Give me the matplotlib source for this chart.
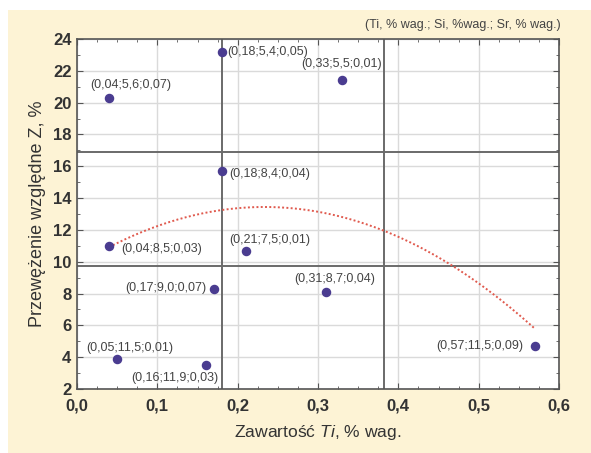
import matplotlib
matplotlib.use("Agg")
import matplotlib.pyplot as plt
import numpy as np
from matplotlib.patches import Rectangle
from matplotlib.ticker import MultipleLocator, FuncFormatter

plt.rcParams["font.family"] = ["Liberation Sans", "DejaVu Sans"]
plt.rcParams["mathtext.fontset"] = "custom"
plt.rcParams["mathtext.it"] = "Liberation Sans:italic"
plt.rcParams["mathtext.rm"] = "Liberation Sans"

ti = [0.04, 0.18, 0.33, 0.18, 0.04, 0.21, 0.17, 0.31, 0.05, 0.16, 0.57]
z = [20.3, 23.2, 21.4, 15.7, 11.0, 10.7, 8.3, 8.1, 3.9, 3.5, 4.7]
labels = ["(0,04;5,6;0,07)", "(0,18;5,4;0,05)", "(0,33;5,5;0,01)",
          "(0,18;8,4;0,04)", "(0,04;8,5;0,03)", "(0,21;7,5;0,01)",
          "(0,17;9,0;0,07)", "(0,31;8,7;0,04)", "(0,05;11,5;0,01)",
          "(0,16;11,9;0,03)", "(0,57;11,5;0,09)"]
vlines = [0.18, 0.382]
hlines = [16.9, 9.75]

# label offsets in points (dx, dy) and alignment
offsets = [(-13.7, 9.4, "left"), (4.3, 0, "left"), (28.8, 11.5, "right"),
           (5.8, -2.2, "left"), (8.6, -2.2, "left"), (-11.5, 7.9, "left"),
           (-5, 0.7, "right"), (35, 9.4, "right"), (-22.3, 7.9, "left"),
           (9.4, -9.4, "right"), (-8.6, 0, "right")]

fig = plt.figure(figsize=(5.91, 4.53), dpi=100)
fig.patches.append(Rectangle((8 / 591, 0), 1, 1 - 10 / 453, transform=fig.transFigure,
                             facecolor="#fdf3d5", edgecolor="none", zorder=-10))
ax = fig.add_axes([77 / 591, 1 - 389 / 453, (559 - 77) / 591, (389 - 39) / 453])
ax.set_facecolor("white")
ax.set_xlim(0, 0.6)
ax.set_ylim(2, 24)
ax.xaxis.set_major_locator(MultipleLocator(0.1))
ax.xaxis.set_minor_locator(MultipleLocator(0.025))
ax.yaxis.set_major_locator(MultipleLocator(2))
ax.yaxis.set_minor_locator(MultipleLocator(1))
ax.xaxis.set_major_formatter(FuncFormatter(lambda v, p: f"{v:.1f}".replace(".", ",")))
ax.grid(True, which="major", color="#dadada", lw=1.0)
ax.tick_params(which="both", direction="in", top=True, right=True, color="#555555")
ax.tick_params(which="major", length=4, labelsize=12, labelcolor="#333333")
ax.tick_params(axis="x", which="major", pad=7)
ax.tick_params(axis="y", which="major", pad=4)
ax.tick_params(which="minor", length=2.5)
for lab in ax.get_xticklabels() + ax.get_yticklabels():
    lab.set_fontweight("bold")
for s in ax.spines.values():
    s.set_color("#555555")
    s.set_linewidth(1.2)

for v in vlines:
    ax.axvline(v, color="#6a6a6a", lw=1.4, zorder=2)
for h in hlines:
    ax.axhline(h, color="#6a6a6a", lw=1.4, zorder=2)

coef = np.polyfit(ti, z, 2)
xx = np.linspace(min(ti), max(ti), 200)
ax.plot(xx, np.polyval(coef, xx), color="#e05a4e", lw=1.4, ls=(0, (1, 1.2)), zorder=3)

ax.scatter(ti, z, s=34, color="#4a3c90", zorder=4)
for x, y, t, (dx, dy, ha) in zip(ti, z, labels, offsets):
    ax.annotate(t, (x, y), xytext=(dx, dy), textcoords="offset points",
                ha=ha, va="center", fontsize=9, color="#444444", zorder=5)

ax.set_xlabel("Zawartość $\\mathit{Ti}$, % wag.", fontsize=12.6, color="#333333", labelpad=7)
ax.set_ylabel("Przewężenie względne Z, %", fontsize=13, color="#333333", labelpad=5)
fig.text(561 / 591, 1 - 25 / 453, "(Ti, % wag.; Si, %wag.; Sr, % wag.)", ha="right",
         va="center", fontsize=9, color="#444444")

fig.savefig("out.png", dpi=100)
